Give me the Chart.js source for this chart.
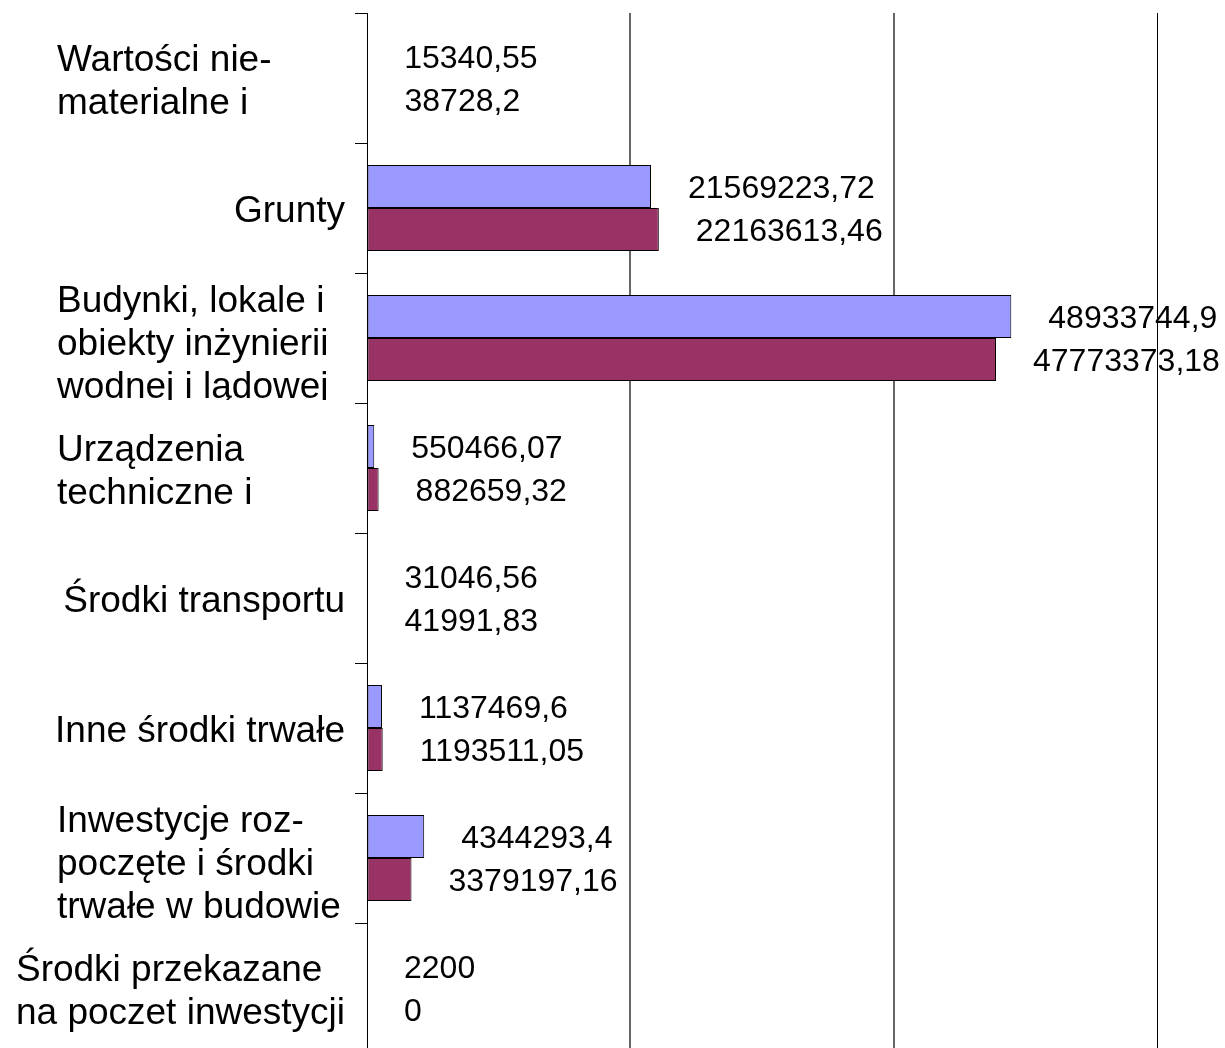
<!DOCTYPE html>
<html>
<head>
<meta charset="utf-8">
<script src="https://cdn.jsdelivr.net/npm/chart.js@4.4.1/dist/chart.umd.min.js"></script>
<style>
  html, body { margin: 0; padding: 0; background: #fff; overflow: hidden; }
</style>
</head>
<body>
<canvas id="assetsChart" width="1225" height="1060"></canvas>
<script>
// category names, already split into the lines shown in the picture
var categories = [
  ["Wartości nie-", "materialne i"],
  ["Grunty"],
  ["Budynki, lokale i", "obiekty inżynierii", "wodnej i lądowej"],
  ["Urządzenia", "techniczne i"],
  ["Środki transportu"],
  ["Inne środki trwałe"],
  ["Inwestycje roz-", "poczęte i środki", "trwałe w budowie"],
  ["Środki przekazane", "na poczet inwestycji"],
];
var seriesA = [15340.55, 21569223.72, 48933744.9, 550466.07, 31046.56, 1137469.6, 4344293.4, 2200];
var seriesB = [38728.2, 22163613.46, 47773373.18, 882659.32, 41991.83, 1193511.05, 3379197.16, 0];
var axisMax = 60000000;
var axisStep = 20000000;

var FONT = '"Liberation Sans", Arial, sans-serif';

function fmt(v) {
  return String(v).replace(".", ",");
}

// value labels to the right of every bar, then the right frame line on top
var valueLabels = {
  id: "valueLabels",
  afterDatasetsDraw: function (chart) {
    var ctx = chart.ctx;
    ctx.save();
    ctx.font = "32px " + FONT;
    ctx.fillStyle = "#000";
    ctx.textAlign = "left";
    ctx.textBaseline = "middle";
    chart.data.datasets.forEach(function (ds, i) {
      chart.getDatasetMeta(i).data.forEach(function (bar, j) {
        ctx.fillText(fmt(ds.data[j]), bar.x + 37, bar.y + 3);
      });
    });
    var xr = Math.round(chart.scales.x.getPixelForValue(axisMax)) + 0.5;
    ctx.strokeStyle = "#000";
    ctx.lineWidth = 1;
    ctx.beginPath();
    ctx.moveTo(xr, chart.chartArea.top);
    ctx.lineTo(xr, chart.chartArea.bottom);
    ctx.stroke();
    ctx.restore();
  },
};

// category names: lines left aligned in a block right aligned next to the axis
var categoryLabels = {
  id: "categoryLabels",
  afterDraw: function (chart) {
    var ctx = chart.ctx;
    var y = chart.scales.y;
    var right = chart.chartArea.left - 22;
    var lineH = 43;
    var band = y.getPixelForValue(1) - y.getPixelForValue(0);
    ctx.save();
    ctx.font = "37px " + FONT;
    ctx.fillStyle = "#000";
    ctx.textBaseline = "middle";
    categories.forEach(function (lines, i) {
      var cy = y.getPixelForValue(i);
      ctx.save();
      ctx.beginPath();
      ctx.rect(0, cy - band / 2, right + 10, band - 3);
      ctx.clip();
      if (lines.length === 1) {
        ctx.textAlign = "right";
        ctx.fillText(lines[0], right, cy + 4);
      } else {
        var w = 288;
        lines.forEach(function (l) { w = Math.max(w, ctx.measureText(l).width); });
        ctx.textAlign = "left";
        lines.forEach(function (l, k) {
          var ly = cy + (k - (lines.length - 1) / 2) * lineH + 4;
          if (lines.length > 2) ly += 3;
          ctx.fillText(l, right - w, ly);
        });
      }
      ctx.restore();
    });
    ctx.restore();
  },
};

var ctx = document.getElementById("assetsChart").getContext("2d");
var assetsChart = new Chart(ctx, {
  type: "bar",
  data: {
    labels: categories,
    datasets: [
      {
        label: "A",
        data: seriesA,
        backgroundColor: "#9999FF",
        borderColor: "#000",
        borderWidth: 1,
        borderSkipped: false,
      },
      {
        label: "B",
        data: seriesB,
        backgroundColor: "#993366",
        borderColor: "#000",
        borderWidth: 1,
        borderSkipped: false,
      },
    ],
  },
  options: {
    indexAxis: "y",
    responsive: false,
    animation: false,
    devicePixelRatio: 1,
    categoryPercentage: 0.6615,
    barPercentage: 1,
    layout: { padding: { left: 0, top: 13, right: 68, bottom: 7 } },
    plugins: {
      legend: { display: false },
      tooltip: { enabled: false },
    },
    scales: {
      x: {
        min: 0,
        max: axisMax,
        ticks: { display: false, stepSize: axisStep },
        border: { display: false },
        grid: {
          drawTicks: false,
          lineWidth: function (c) {
            return c.tick && (c.tick.value === 0 || c.tick.value === axisMax) ? 1 : 2;
          },
          color: function (c) {
            return c.tick && (c.tick.value === 0 || c.tick.value === axisMax) ? "#000" : "#666";
          },
        },
        afterFit: function (scale) { scale.height = 0; },
      },
      y: {
        ticks: { display: false },
        border: { display: true, color: "#000", width: 1 },
        grid: {
          drawOnChartArea: false,
          drawTicks: true,
          tickLength: 12,
          color: "#000",
        },
        afterFit: function (scale) { scale.width = 367; },
      },
    },
  },
  plugins: [valueLabels, categoryLabels],
});
</script>
</body>
</html>
